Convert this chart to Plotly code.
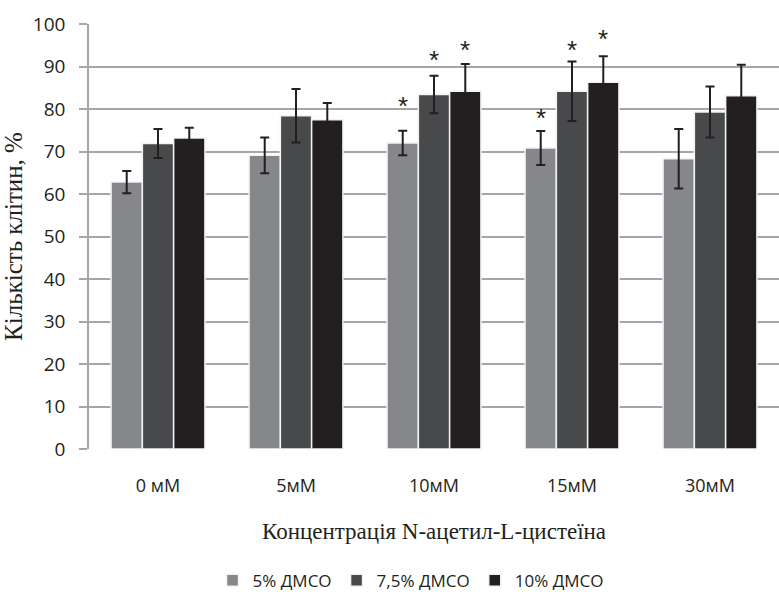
import plotly.graph_objects as go

categories = ["0 мМ", "5мМ", "10мМ", "15мМ", "30мМ"]
series_names = ["5% ДМСО", "7,5% ДМСО", "10% ДМСО"]
dmso5 = [62.8, 69.1, 72.0, 70.8, 68.3]
dmso5_err = [2.6, 4.2, 2.9, 4.0, 7.0]
dmso75 = [71.9, 78.4, 83.4, 84.2, 79.3]
dmso75_err = [3.4, 6.3, 4.4, 7.0, 6.0]
dmso10 = [73.2, 77.5, 84.2, 86.3, 83.1]
dmso10_err = [2.4, 3.9, 6.4, 6.1, 7.3]
# significance marks: (category, series index, y value)
stars = [("10мМ", 0, 80.7), ("10мМ", 1, 91.5), ("10мМ", 2, 94.0),
         ("15мМ", 0, 77.8), ("15мМ", 1, 94.0), ("15мМ", 2, 96.4)]

colors = ["#86878b", "#48494b", "#231f20"]
values = [dmso5, dmso75, dmso10]
errors = [dmso5_err, dmso75_err, dmso10_err]

fig = go.Figure()
for name, vals, errs, col in zip(series_names, values, errors, colors):
    fig.add_trace(go.Bar(
        x=categories, y=vals, name=name,
        marker=dict(color=col, line=dict(color="#f2f2f2", width=1.5)),
        error_y=dict(type="data", array=errs, visible=True,
                     color="#231f20", thickness=2, width=4.5),
    ))

plot_w = 779 - 89
cat_w = plot_w / len(categories)
bargap = 0.32
bar_w = cat_w * (1 - bargap) / 3
for cat, si, yv in stars:
    fig.add_annotation(x=cat, y=yv, xref="x", yref="y", text="*",
                       showarrow=False, xshift=(si - 1) * bar_w,
                       font=dict(family="Liberation Sans", size=26, color="#231f20"),
                       yanchor="middle")

fig.update_layout(
    width=779, height=592,
    margin=dict(l=89, r=0, t=24, b=143, autoexpand=False),
    paper_bgcolor="white", plot_bgcolor="white",
    barmode="group", bargap=bargap, bargroupgap=0,
    showlegend=True,
    legend=dict(orientation="h", x=0.527, xanchor="center", xref="container",
                y=-0.31, yref="paper", yanchor="middle",
                font=dict(family="Open Sans", size=17, color="#231f20"),
                itemwidth=30, tracegroupgap=0),
    font=dict(family="Open Sans", color="#231f20"),
)
fig.update_xaxes(
    showgrid=False, showline=False, ticks="", automargin=False,
    tickfont=dict(family="Open Sans", size=18, color="#231f20"),
    ticklabelstandoff=24,
    title=dict(text="Концентрація N-ацетил-L-цистеїна",
               font=dict(family="Liberation Serif", size=23, color="#231f20"),
               standoff=26),
)
fig.update_yaxes(
    range=[0, 100], dtick=10, automargin=False,
    showgrid=True, gridcolor="#a6a6a6", gridwidth=1.5,
    showline=True, linecolor="#a6a6a6", linewidth=1.5,
    ticks="outside", ticklen=8, tickcolor="#a6a6a6", tickwidth=1.5,
    tickfont=dict(family="Open Sans", size=19, color="#231f20"),
    ticklabelstandoff=10,
    zeroline=False,
    title=dict(text="Кількість клітин, %",
               font=dict(family="Liberation Serif", size=25, color="#231f20"),
               standoff=8),
)

fig.write_html("out.html", config={"displayModeBar": False},
               post_script="document.body.style.margin='0';")
